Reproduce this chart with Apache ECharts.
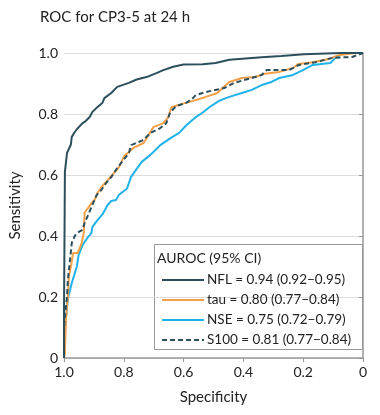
<!DOCTYPE html>
<html><head><meta charset="utf-8">
<script src="https://cdn.jsdelivr.net/npm/echarts@6/dist/echarts.min.js"></script>
<style>html,body{margin:0;padding:0;background:#fff}#c{width:380px;height:415px}</style>
</head><body><div id="c"></div>
<script>
// [specificity, sensitivity]
const nfl = [[1.0,0],[1.0,0.15],[0.998,0.45],[0.997,0.61],[0.99,0.672],[0.977,0.70],[0.974,0.725],[0.964,0.741],[0.957,0.75],[0.938,0.77],[0.931,0.774],[0.914,0.79],[0.905,0.807],[0.888,0.823],[0.872,0.836],[0.865,0.852],[0.842,0.869],[0.822,0.889],[0.783,0.902],[0.757,0.913],[0.724,0.921],[0.691,0.934],[0.668,0.944],[0.635,0.955],[0.6,0.962],[0.536,0.963],[0.493,0.967],[0.447,0.978],[0.339,0.986],[0.273,0.99],[0.197,0.996],[0.076,1.0],[0,1]];
const tau = [[1.0,0],[0.997,0.016],[0.993,0.134],[0.987,0.2],[0.984,0.266],[0.974,0.315],[0.970,0.344],[0.954,0.344],[0.941,0.377],[0.934,0.41],[0.931,0.477],[0.921,0.49],[0.908,0.508],[0.898,0.518],[0.888,0.541],[0.875,0.56],[0.859,0.577],[0.839,0.6],[0.816,0.626],[0.799,0.662],[0.783,0.675],[0.766,0.69],[0.734,0.705],[0.717,0.731],[0.701,0.757],[0.668,0.77],[0.651,0.79],[0.641,0.822],[0.602,0.834],[0.569,0.843],[0.526,0.856],[0.487,0.869],[0.470,0.885],[0.447,0.905],[0.405,0.918],[0.362,0.921],[0.329,0.932],[0.280,0.938],[0.234,0.951],[0.217,0.964],[0.168,0.97],[0.115,0.98],[0.082,0.993],[0.026,1.0],[0,1]];
const nse = [[1.0,0],[0.997,0.09],[0.993,0.134],[0.987,0.195],[0.974,0.246],[0.957,0.3],[0.951,0.338],[0.938,0.37],[0.921,0.395],[0.908,0.41],[0.905,0.43],[0.888,0.452],[0.872,0.47],[0.855,0.5],[0.842,0.515],[0.826,0.518],[0.816,0.535],[0.789,0.556],[0.776,0.593],[0.757,0.62],[0.740,0.643],[0.711,0.666],[0.694,0.682],[0.678,0.698],[0.645,0.72],[0.615,0.738],[0.590,0.764],[0.559,0.79],[0.536,0.805],[0.513,0.823],[0.480,0.844],[0.447,0.856],[0.405,0.869],[0.372,0.879],[0.339,0.895],[0.306,0.905],[0.280,0.918],[0.234,0.928],[0.201,0.944],[0.168,0.961],[0.109,0.967],[0.092,0.984],[0.066,1.0],[0,1]];
const s100 = [[1.0,0],[1.0,0.1],[0.997,0.134],[0.99,0.2],[0.987,0.256],[0.98,0.321],[0.974,0.377],[0.964,0.4],[0.957,0.41],[0.938,0.42],[0.931,0.443],[0.921,0.465],[0.908,0.495],[0.891,0.534],[0.875,0.551],[0.859,0.574],[0.842,0.593],[0.822,0.623],[0.806,0.643],[0.783,0.672],[0.775,0.698],[0.734,0.715],[0.711,0.738],[0.678,0.754],[0.658,0.77],[0.645,0.805],[0.625,0.826],[0.592,0.836],[0.569,0.852],[0.559,0.862],[0.526,0.872],[0.464,0.885],[0.431,0.902],[0.398,0.911],[0.372,0.918],[0.339,0.928],[0.322,0.944],[0.247,0.944],[0.214,0.961],[0.158,0.97],[0.102,0.984],[0.036,0.987],[0,1]];
const seriesNames = ['NFL','tau','NSE','S100'];
const legendLabels = {
  'NFL':'NFL = 0.94 (0.92−0.95)',
  'tau':'tau = 0.80 (0.77−0.84)',
  'NSE':'NSE = 0.75 (0.72−0.79)',
  'S100':'S100 = 0.81 (0.77−0.84)'
};
const titleText = 'ROC for CP3-5 at 24 h';
const legendTitle = 'AUROC (95% CI)';
const xName = 'Specificity', yName = 'Sensitivity';

const FONT = 'Lato';
const dark = '#2c4f5c', orange = '#f2a04a', blue = '#1fb2e8';
const chart = echarts.init(document.getElementById('c'), null, {renderer:'canvas'});
const axisLabel = {color:'#222', fontFamily:FONT, fontSize:14};
chart.setOption({
  animation:false,
  title:{text:titleText, left:35, top:5, textStyle:{fontFamily:FONT, fontSize:15, fontWeight:'normal', color:'#222'}},
  grid:{left:59, right:17, top:53, bottom:57},
  xAxis:{type:'value', min:0, max:1, interval:0.2, inverse:true, name:xName, nameLocation:'middle', nameGap:32,
    nameTextStyle:{fontFamily:FONT, fontSize:15, color:'#222'},
    axisLine:{show:true, lineStyle:{color:'#999', width:1.5}}, axisTick:{show:true, length:4, lineStyle:{color:'#999'}},
    splitLine:{show:false},
    axisLabel:Object.assign({formatter:v=>v===0?'0':v.toFixed(1), margin:7}, axisLabel)},
  yAxis:{type:'value', min:0, max:1, interval:0.2, name:yName, nameLocation:'middle', nameGap:41,
    nameTextStyle:{fontFamily:FONT, fontSize:15, color:'#222'},
    axisLine:{show:true, lineStyle:{color:'#999', width:1.5}}, axisTick:{show:true, length:4, lineStyle:{color:'#999'}},
    splitLine:{show:true, lineStyle:{color:'#ddd', width:1}},
    axisLabel:Object.assign({formatter:v=>v===0?'0':v.toFixed(1), margin:6}, axisLabel)},
  legend:{orient:'vertical', left:156, top:268, itemWidth:42, itemHeight:14, itemGap:6,
    data:seriesNames, formatter:n=>legendLabels[n],
    itemStyle:{opacity:0},
    textStyle:{fontFamily:FONT, fontSize:13.5, color:'#222', padding:[0,0,0,-2]}},
  graphic:[
    {type:'rect', shape:{x:154.5, y:244.5, width:208, height:105}, style:{fill:'#fff', stroke:'#999', lineWidth:1}, z:-1},
    {type:'text', left:157, top:251, style:{text:legendTitle, font:'14px '+FONT, fill:'#222'}}
  ],
  series:[
    {name:'NSE', type:'line', data:nse, symbol:'none', lineStyle:{color:blue, width:2}, itemStyle:{color:blue}, z:3},
    {name:'tau', type:'line', data:tau, symbol:'none', lineStyle:{color:orange, width:2}, itemStyle:{color:orange}, z:4},
    {name:'S100', type:'line', data:s100, symbol:'none', lineStyle:{color:dark, width:2, type:[5,3]}, itemStyle:{color:dark}, z:5},
    {name:'NFL', type:'line', data:nfl, symbol:'none', lineStyle:{color:dark, width:2}, itemStyle:{color:dark}, z:6}
  ]
});
</script></body></html>
